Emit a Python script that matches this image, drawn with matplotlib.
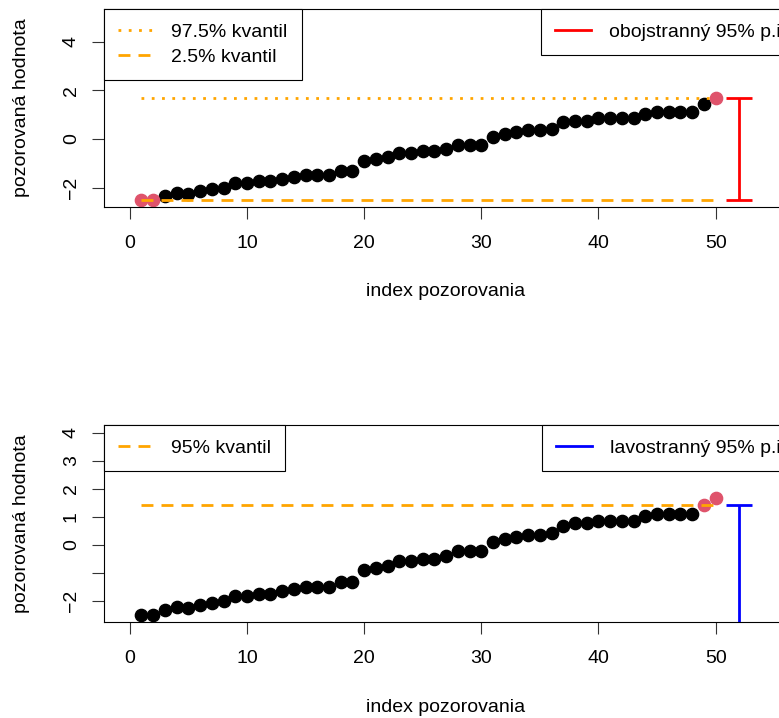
import numpy as np
import matplotlib.pyplot as plt
from matplotlib.lines import Line2D

plt.rcParams['font.family'] = ['Liberation Sans', 'DejaVu Sans']

hodnoty = [-2.50, -2.50, -2.33, -2.24, -2.25, -2.16, -2.07, -2.00, -1.83, -1.83,
           -1.75, -1.75, -1.66, -1.58, -1.50, -1.50, -1.50, -1.33, -1.33, -0.91,
           -0.84, -0.76, -0.57, -0.57, -0.50, -0.50, -0.42, -0.24, -0.24, -0.24,
           0.10, 0.19, 0.27, 0.35, 0.35, 0.43, 0.68, 0.76, 0.76, 0.85,
           0.85, 0.85, 0.85, 1.01, 1.09, 1.09, 1.09, 1.09, 1.43, 1.68]
index = np.arange(1, len(hodnoty) + 1)
y = np.array(hodnoty)

q975 = 1.68
q025 = -2.50
q95 = 1.43
pi_x = 52

x_ticks = [0, 10, 20, 30, 40, 50]
y_ticks_top = [-2, 0, 2, 4]
y_labels_top = ['\u22122', '0', '2', '4']
y_ticks_bot = [-2, -1, 0, 1, 2, 3, 4]
y_labels_bot = ['\u22122', '', '0', '1', '2', '3', '4']

RED_PT = '#DF536B'
ORANGE = '#FFA500'
FS = 14

fig = plt.figure(figsize=(7.79, 7.18), dpi=100)
ax1 = fig.add_axes([104/779, 1-207/718, 696/779, 198/718])
ax2 = fig.add_axes([104/779, 1-622/718, 696/779, 197/718])

dash = (0, (4.3, 2.9))
dot = (0, (1, 2.7))


def style(ax, yt, yl):
    ax.set_xlim(-2.2, 57.2)
    ax.set_xticks(x_ticks)
    ax.set_xticklabels([str(t) for t in x_ticks], fontsize=FS)
    ax.set_yticks(yt)
    ax.set_yticklabels(yl, rotation=90, va='center', fontsize=FS)
    ax.tick_params(axis='both', length=8.4, width=0.8, color='#333333')
    ax.tick_params(axis='x', pad=12)
    ax.tick_params(axis='y', pad=9)
    for s in ax.spines.values():
        s.set_linewidth(0.8)


def leg(ax, handles, labels, loc, anchor):
    lg = ax.legend(handles, labels, loc=loc, bbox_to_anchor=anchor, borderaxespad=0,
                   fancybox=False, edgecolor='black', framealpha=1, fontsize=FS,
                   handlelength=1.85, handletextpad=0.9, borderpad=0.72, labelspacing=0.4)
    lg.get_frame().set_linewidth(0.8)
    return lg


# ---- top panel: two-sided
out1 = (y <= q025) | (y >= q975)
ax1.scatter(index[~out1], y[~out1], s=78, color='black', zorder=2)
ax1.scatter(index[out1], y[out1], s=78, color=RED_PT, zorder=2)
l975, = ax1.plot([index[0], index[-1]], [q975, q975], color=ORANGE, lw=2, ls=dot, zorder=3)
l025, = ax1.plot([index[0], index[-1]], [q025, q025], color=ORANGE, lw=2, ls=dash, zorder=3)
ax1.errorbar(pi_x, (q975 + q025) / 2, yerr=(q975 - q025) / 2, color='red', lw=2,
             capsize=9.4, capthick=2, zorder=3)
ax1.set_ylim(-2.8, 5.35)
style(ax1, y_ticks_top, y_labels_top)
lg1 = leg(ax1, [l975, l025], ['97.5% kvantil', '2.5% kvantil'], 'upper left', (0, 1))
ax1.add_artist(lg1)
leg(ax1, [Line2D([], [], color='red', lw=2)], ['obojstranný 95% p.i.'], 'upper right', (1, 1))

# ---- bottom panel: left-sided
out2 = y >= q95
ax2.scatter(index[~out2], y[~out2], s=78, color='black', zorder=2)
ax2.scatter(index[out2], y[out2], s=78, color=RED_PT, zorder=2)
l95, = ax2.plot([index[0], index[-1]], [q95, q95], color=ORANGE, lw=2, ls=dash, zorder=3)
ax2.errorbar(pi_x, q95, yerr=[[q95 + 20], [0]], color='blue', lw=2,
             capsize=9.4, capthick=2, zorder=3)
ax2.set_ylim(-2.76, 4.275)
style(ax2, y_ticks_bot, y_labels_bot)
lg2 = leg(ax2, [l95], ['95% kvantil'], 'upper left', (0, 1))
ax2.add_artist(lg2)
leg(ax2, [Line2D([], [], color='blue', lw=2)], ['lavostranný 95% p.i.'], 'upper right', (1, 1))

# axis titles
for ytop, ybot in [(9, 207), (425, 622)]:
    fig.text(22/779, 1 - (ytop + ybot) / 2 / 718, 'pozorovaná hodnota', rotation=90,
             ha='center', va='center', fontsize=FS)
fig.text(446/779, 1 - 291/718, 'index pozorovania', ha='center', va='center', fontsize=FS)
fig.text(446/779, 1 - 707/718, 'index pozorovania', ha='center', va='center', fontsize=FS)

fig.savefig('out.png', dpi=100)
